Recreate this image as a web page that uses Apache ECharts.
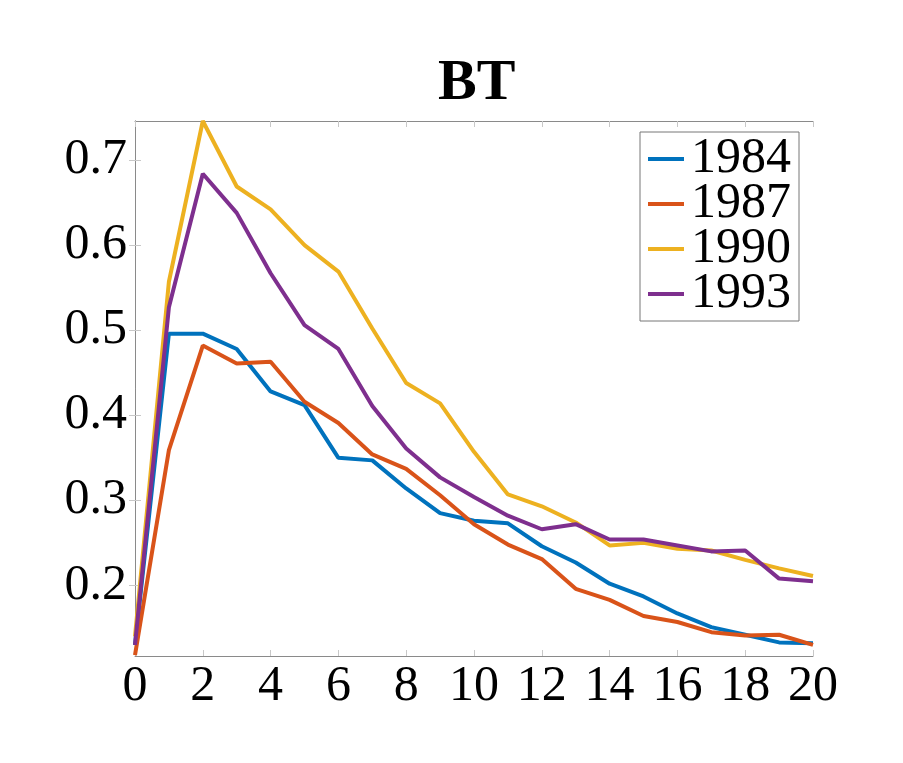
<!DOCTYPE html>
<html>
<head>
<meta charset="utf-8">
<script src="https://cdn.jsdelivr.net/npm/echarts@6/dist/echarts.min.js"></script>
<style>
  html, body { margin: 0; padding: 0; background: #fff; }
  #chart { width: 903px; height: 763px; }
</style>
</head>
<body>
<div id="chart"></div>
<script>
// data
const steps = [0, 1, 2, 3, 4, 5, 6, 7, 8, 9, 10, 11, 12, 13, 14, 15, 16, 17, 18, 19, 20]
const years = ['1984', '1987', '1990', '1993']
const s1984 = [0.130, 0.496, 0.496, 0.478, 0.428, 0.412, 0.350, 0.347, 0.314, 0.285, 0.276, 0.273, 0.246, 0.227, 0.202, 0.187, 0.167, 0.151, 0.142, 0.133, 0.132]
const s1987 = [0.118, 0.359, 0.482, 0.461, 0.463, 0.416, 0.391, 0.354, 0.337, 0.306, 0.272, 0.248, 0.231, 0.196, 0.183, 0.164, 0.157, 0.145, 0.141, 0.142, 0.130]
const s1990 = [0.140, 0.557, 0.746, 0.669, 0.642, 0.600, 0.569, 0.502, 0.438, 0.414, 0.357, 0.307, 0.293, 0.274, 0.247, 0.250, 0.243, 0.241, 0.230, 0.220, 0.211]
const s1993 = [0.130, 0.527, 0.684, 0.638, 0.567, 0.506, 0.478, 0.411, 0.361, 0.327, 0.304, 0.282, 0.266, 0.272, 0.254, 0.254, 0.247, 0.240, 0.241, 0.208, 0.205]
const yTicks = [0.2, 0.3, 0.4, 0.5, 0.6, 0.7]
const colors = ['#0072BD', '#D95319', '#EDB120', '#7E2F8E']

const font = 'Liberation Serif'
const frame = '#8a8a8a'
const tickColor = '#c8c8c8'

const allSeries = [s1984, s1987, s1990, s1993]

const chart = echarts.init(document.getElementById('chart'))
chart.setOption({
  animation: false,
  backgroundColor: '#fff',
  textStyle: { fontFamily: font },
  title: {
    text: 'BT',
    left: 433,
    top: 50,
    textStyle: { fontFamily: font, fontWeight: 'bold', fontSize: 58, color: '#000' }
  },
  legend: {
    data: years,
    orient: 'vertical',
    right: 104,
    top: 132,
    backgroundColor: '#fff',
    borderColor: '#777',
    borderWidth: 1,
    borderRadius: 0,
    padding: [2, 8, 2, 8],
    itemGap: -5,
    itemWidth: 36,
    itemHeight: 4,
    icon: 'rect',
    textStyle: { fontFamily: font, fontSize: 50, color: '#000', lineHeight: 45, padding: [0, 0, 0, 2] }
  },
  grid: { left: 135, right: 90, top: 121, bottom: 107 },
  xAxis: [
    {
      type: 'value',
      min: 0,
      max: 20,
      interval: 2,
      axisLine: { show: true, lineStyle: { color: frame, width: 1 } },
      axisTick: { show: true, inside: true, length: 6, lineStyle: { color: tickColor } },
      axisLabel: { fontFamily: font, fontSize: 50, color: '#000', margin: 6 },
      splitLine: { show: false }
    },
    {
      type: 'value',
      position: 'top',
      min: 0,
      max: 20,
      interval: 2,
      axisLine: { show: true, lineStyle: { color: frame, width: 1 } },
      axisTick: { show: true, inside: true, length: 6, lineStyle: { color: tickColor } },
      axisLabel: { show: false },
      splitLine: { show: false }
    }
  ],
  yAxis: [
    {
      type: 'value',
      min: 0.117,
      max: 0.746,
      axisLine: { show: true, lineStyle: { color: frame, width: 1 } },
      axisTick: { show: true, inside: true, length: 6, customValues: yTicks, lineStyle: { color: tickColor } },
      axisLabel: { fontFamily: font, fontSize: 50, color: '#000', margin: 8, customValues: yTicks, formatter: v => v.toFixed(1) },
      splitLine: { show: false }
    },
    {
      type: 'value',
      position: 'right',
      min: 0.117,
      max: 0.746,
      axisLine: { show: true, lineStyle: { color: frame, width: 1 } },
      axisTick: { show: true, inside: true, length: 6, customValues: yTicks, lineStyle: { color: tickColor } },
      axisLabel: { show: false, customValues: yTicks },
      splitLine: { show: false }
    }
  ],
  series: years.map((name, k) => ({
    name: name,
    type: 'line',
    symbol: 'none',
    color: colors[k],
    lineStyle: { width: 4, color: colors[k] },
    data: steps.map((x, i) => [x, allSeries[k][i]])
  }))
})
</script>
</body>
</html>
